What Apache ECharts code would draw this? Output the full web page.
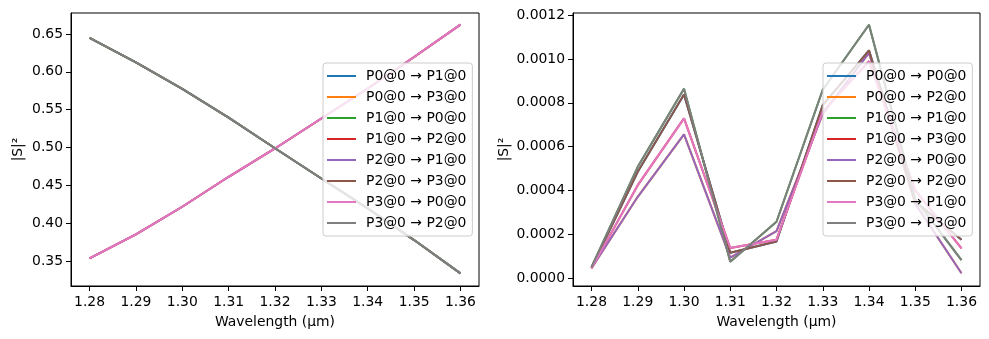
<!DOCTYPE html>
<html>
<head>
<meta charset="utf-8">
<script src="https://cdn.jsdelivr.net/npm/echarts@6/dist/echarts.min.js"></script>
<style>
html,body{margin:0;padding:0;background:#fff;}
#c{width:989px;height:339px;}
</style>
</head>
<body>
<div id="c"></div>
<script>
// Wavelengths (µm)
var wavelengths = [1.28, 1.29, 1.30, 1.31, 1.32, 1.33, 1.34, 1.35, 1.36];
var xTicks = [1.28, 1.29, 1.30, 1.31, 1.32, 1.33, 1.34, 1.35, 1.36];
var leftYTicks = [0.35, 0.40, 0.45, 0.50, 0.55, 0.60, 0.65];
var rightYTicks = [0, 0.0002, 0.0004, 0.0006, 0.0008, 0.0010, 0.0012];

// Left panel: transmission
var leftNames = ['P0@0 → P1@0','P0@0 → P3@0','P1@0 → P0@0','P1@0 → P2@0','P2@0 → P1@0','P2@0 → P3@0','P3@0 → P0@0','P3@0 → P2@0'];
var barTrans   = [0.6447, 0.6125, 0.5775, 0.5395, 0.4990, 0.4590, 0.4195, 0.3777, 0.3337];
var crossTrans = [0.3535, 0.3852, 0.4217, 0.4613, 0.4987, 0.5383, 0.5779, 0.6196, 0.6623];
var leftValues = [barTrans, crossTrans, barTrans, crossTrans, crossTrans, barTrans, crossTrans, barTrans];

// Right panel: reflection / isolation
var rightNames = ['P0@0 → P0@0','P0@0 → P2@0','P1@0 → P1@0','P1@0 → P3@0','P2@0 → P0@0','P2@0 → P2@0','P3@0 → P1@0','P3@0 → P3@0'];
var reflA = [0.000047, 0.000485, 0.000838, 0.000115, 0.000167, 0.000790, 0.001040, 0.000350, 0.000175]; // P0->P0, P2->P2
var isoA  = [0.000045, 0.000371, 0.000656, 0.000093, 0.000214, 0.000750, 0.001028, 0.000340, 0.000022]; // P0->P2, P2->P0
var reflB = [0.000050, 0.000508, 0.000865, 0.0000745, 0.000257, 0.000860, 0.001157, 0.000360, 0.0000821]; // P1->P1, P3->P3
var isoB  = [0.000044, 0.000424, 0.000729, 0.000137, 0.000175, 0.000760, 0.000990, 0.000400, 0.000135]; // P1->P3, P3->P1
var rightValues = [reflA, isoA, reflB, isoB, isoA, reflA, isoB, reflB];

var colors = ['#1f77b4','#ff7f0e','#2ca02c','#d62728','#9467bd','#8c564b','#e377c2','#7f7f7f'];
var FONT = 'DejaVu Sans';

function pairs(vals){ return wavelengths.map(function(w,i){ return [w, vals[i]]; }); }

var series = [];
leftNames.forEach(function(n,i){
  series.push({name:n, type:'line', xAxisIndex:0, yAxisIndex:0, data:pairs(leftValues[i]),
    showSymbol:false, symbol:'none', lineStyle:{width:2, color:colors[i]}, itemStyle:{color:colors[i]}, animation:false, z:2, zlevel:0});
});
rightNames.forEach(function(n,i){
  series.push({name:n, type:'line', xAxisIndex:1, yAxisIndex:1, data:pairs(rightValues[i]),
    showSymbol:false, symbol:'none', lineStyle:{width:2, color:colors[i]}, itemStyle:{color:colors[i]}, animation:false, z:2, zlevel:0});
});

function xAxis(idx){
  return {type:'value', gridIndex:idx, min:1.276, max:1.364,
    name:'Wavelength (µm)', nameLocation:'middle', nameGap:29,
    nameTextStyle:{fontFamily:FONT, fontSize:13.9, color:'#000'},
    axisLine:{show:true, onZero:false, lineStyle:{color:'#000', width:1}},
    axisTick:{show:true, length:5, lineStyle:{color:'#000'}, customValues:xTicks},
    axisLabel:{fontFamily:FONT, fontSize:13.9, color:'#000', margin:9, customValues:xTicks,
      formatter:function(v){return v.toFixed(2);}},
    splitLine:{show:false}};
}
function yAxis(idx, min, max, ticks, dec, gap){
  return {type:'value', gridIndex:idx, min:min, max:max,
    name:'|S|²', nameLocation:'middle', nameGap:gap, nameRotate:90,
    nameTextStyle:{fontFamily:FONT, fontSize:13.9, color:'#000'},
    axisLine:{show:true, onZero:false, lineStyle:{color:'#000', width:1}},
    axisTick:{show:true, length:5, lineStyle:{color:'#000'}, customValues:ticks},
    axisLabel:{fontFamily:FONT, fontSize:13.9, color:'#000', margin:8, customValues:ticks,
      formatter:function(v){return v.toFixed(dec);}},
    splitLine:{show:false}};
}
function legend(names, left){
  return {data:names, orient:'vertical', left:left, top:63, itemWidth:29, itemHeight:2, icon:'rect',
    itemGap:7, padding:[6,6,6,4], backgroundColor:'rgba(255,255,255,0.8)', borderColor:'#cccccc', borderWidth:1, borderRadius:3,
    textStyle:{fontFamily:FONT, fontSize:13.9, color:'#000', padding:[0,0,0,5]}, selectedMode:false,
    z:50, zlevel:1};
}

var chart = echarts.init(document.getElementById('c'), null, {renderer:'canvas'});
chart.setOption({
  animation:false,
  backgroundColor:'#fff',
  grid:[
    {left:71, top:13, width:408, height:273, show:true, borderColor:'#000', borderWidth:1, backgroundColor:'transparent'},
    {left:573, top:13, width:407, height:273, show:true, borderColor:'#000', borderWidth:1, backgroundColor:'transparent'}
  ],
  xAxis:[xAxis(0), xAxis(1)],
  yAxis:[yAxis(0, 0.317, 0.6777, leftYTicks, 2, 46), yAxis(1, -0.0000365, 0.0012106, rightYTicks, 4, 62)],
  legend:[legend(leftNames, 323), legend(rightNames, 823)],
  series:series
});
</script>
</body>
</html>
